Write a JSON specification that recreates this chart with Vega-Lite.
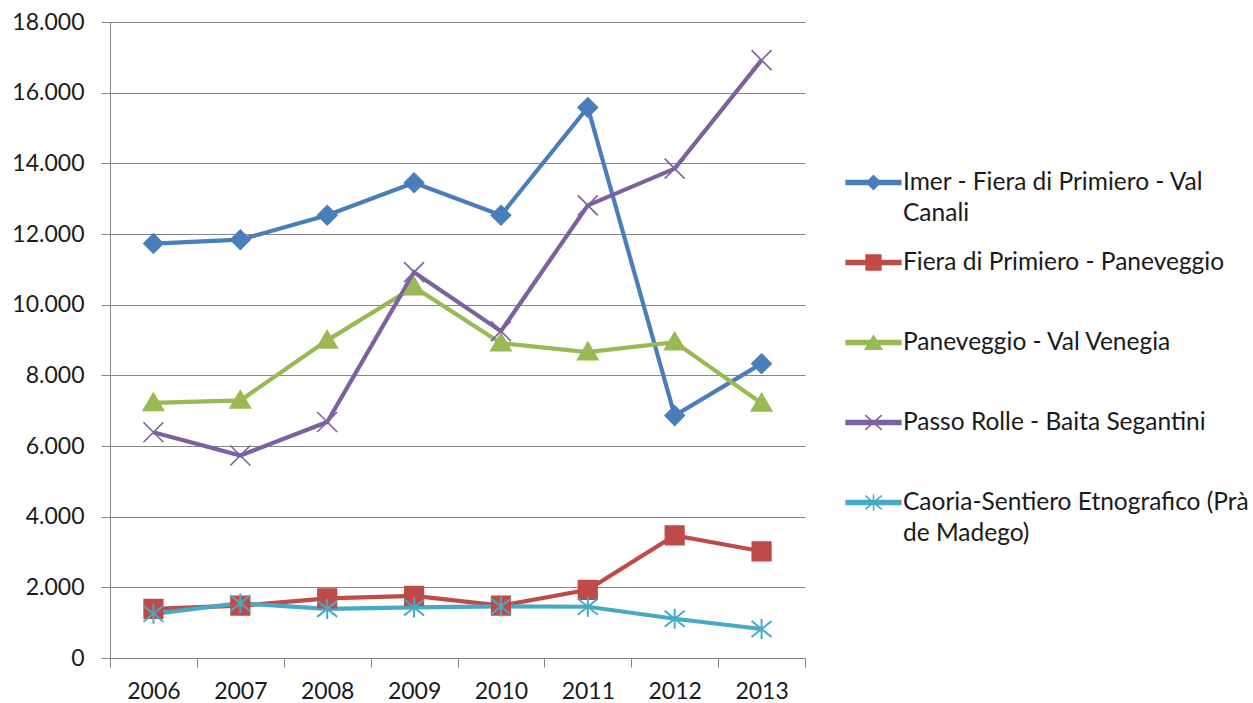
{
  "$schema": "https://vega.github.io/schema/vega-lite/v6.json",
  "width": 695,
  "height": 636,
  "autosize": {"type": "none"},
  "padding": {"left": 110, "top": 22, "right": 448, "bottom": 45},
  "background": "white",
  "config": {
    "font": "Lato",
    "locale": {
      "number": {"decimal": ",", "thousands": ".", "grouping": [3], "currency": ["€", ""]}
    },
    "view": {"stroke": null},
    "point": {"size": 400, "strokeWidth": 1.8, "opacity": 1},
    "axis": {
      "domainColor": "#868686",
      "tickColor": "#868686",
      "gridColor": "#868686",
      "labelColor": "#1a1a1a",
      "labelFont": "Lato",
      "labelFontSize": 23,
      "tickSize": 9,
      "title": null
    }
  },
  "data": {
    "values": [
      {"year": "2006", "series": "Imer - Fiera di Primiero - Val Canali", "value": 11730},
      {"year": "2007", "series": "Imer - Fiera di Primiero - Val Canali", "value": 11840},
      {"year": "2008", "series": "Imer - Fiera di Primiero - Val Canali", "value": 12530},
      {"year": "2009", "series": "Imer - Fiera di Primiero - Val Canali", "value": 13450},
      {"year": "2010", "series": "Imer - Fiera di Primiero - Val Canali", "value": 12530},
      {"year": "2011", "series": "Imer - Fiera di Primiero - Val Canali", "value": 15580},
      {"year": "2012", "series": "Imer - Fiera di Primiero - Val Canali", "value": 6860},
      {"year": "2013", "series": "Imer - Fiera di Primiero - Val Canali", "value": 8330},
      {"year": "2006", "series": "Fiera di Primiero - Paneveggio", "value": 1390},
      {"year": "2007", "series": "Fiera di Primiero - Paneveggio", "value": 1480},
      {"year": "2008", "series": "Fiera di Primiero - Paneveggio", "value": 1690},
      {"year": "2009", "series": "Fiera di Primiero - Paneveggio", "value": 1760},
      {"year": "2010", "series": "Fiera di Primiero - Paneveggio", "value": 1480},
      {"year": "2011", "series": "Fiera di Primiero - Paneveggio", "value": 1930},
      {"year": "2012", "series": "Fiera di Primiero - Paneveggio", "value": 3470},
      {"year": "2013", "series": "Fiera di Primiero - Paneveggio", "value": 3020},
      {"year": "2006", "series": "Paneveggio - Val Venegia", "value": 7220},
      {"year": "2007", "series": "Paneveggio - Val Venegia", "value": 7290},
      {"year": "2008", "series": "Paneveggio - Val Venegia", "value": 8990},
      {"year": "2009", "series": "Paneveggio - Val Venegia", "value": 10500},
      {"year": "2010", "series": "Paneveggio - Val Venegia", "value": 8910},
      {"year": "2011", "series": "Paneveggio - Val Venegia", "value": 8660},
      {"year": "2012", "series": "Paneveggio - Val Venegia", "value": 8940},
      {"year": "2013", "series": "Paneveggio - Val Venegia", "value": 7210},
      {"year": "2006", "series": "Passo Rolle - Baita Segantini", "value": 6390},
      {"year": "2007", "series": "Passo Rolle - Baita Segantini", "value": 5730},
      {"year": "2008", "series": "Passo Rolle - Baita Segantini", "value": 6680},
      {"year": "2009", "series": "Passo Rolle - Baita Segantini", "value": 10920},
      {"year": "2010", "series": "Passo Rolle - Baita Segantini", "value": 9250},
      {"year": "2011", "series": "Passo Rolle - Baita Segantini", "value": 12810},
      {"year": "2012", "series": "Passo Rolle - Baita Segantini", "value": 13850},
      {"year": "2013", "series": "Passo Rolle - Baita Segantini", "value": 16920},
      {"year": "2006", "series": "Caoria-Sentiero Etnografico (Prà de Madego)", "value": 1250},
      {"year": "2007", "series": "Caoria-Sentiero Etnografico (Prà de Madego)", "value": 1550},
      {"year": "2008", "series": "Caoria-Sentiero Etnografico (Prà de Madego)", "value": 1390},
      {"year": "2009", "series": "Caoria-Sentiero Etnografico (Prà de Madego)", "value": 1430},
      {"year": "2010", "series": "Caoria-Sentiero Etnografico (Prà de Madego)", "value": 1460},
      {"year": "2011", "series": "Caoria-Sentiero Etnografico (Prà de Madego)", "value": 1450},
      {"year": "2012", "series": "Caoria-Sentiero Etnografico (Prà de Madego)", "value": 1110},
      {"year": "2013", "series": "Caoria-Sentiero Etnografico (Prà de Madego)", "value": 820}
    ]
  },
  "encoding": {
    "x": {
      "field": "year",
      "type": "ordinal",
      "scale": {"paddingInner": 0, "paddingOuter": 0},
      "axis": {"labelAngle": 0, "tickBand": "extent", "labelPadding": 13, "grid": false}
    },
    "y": {
      "field": "value",
      "type": "quantitative",
      "scale": {"domain": [0, 18000], "nice": false, "zero": true},
      "axis": {
        "values": [0, 2000, 4000, 6000, 8000, 10000, 12000, 14000, 16000, 18000],
        "format": ",d",
        "grid": true,
        "labelPadding": 17
      }
    }
  },
  "layer": [
    {
      "mark": {"type": "line", "strokeWidth": 4.2},
      "encoding": {
        "color": {
          "field": "series",
          "type": "nominal",
          "sort": null,
          "scale": {
            "domain": [
              "Imer - Fiera di Primiero - Val Canali",
              "Fiera di Primiero - Paneveggio",
              "Paneveggio - Val Venegia",
              "Passo Rolle - Baita Segantini",
              "Caoria-Sentiero Etnografico (Prà de Madego)"
            ],
            "range": ["#4A7EBB", "#BE4B48", "#98B954", "#7D60A0", "#46AAC5"]
          },
          "legend": {
            "title": null,
            "orient": "none",
            "legendX": 735,
            "legendY": 132,
            "direction": "vertical",
            "columns": 1,
            "gridAlign": "all",
            "rowPadding": 9,
            "symbolSize": 3000,
            "symbolStrokeWidth": 1.5,
            "labelFont": "Lato",
            "labelFontSize": 24.5,
            "labelColor": "#1a1a1a",
            "labelLimit": 400,
            "labelOffset": 1,
            "labelExpr": "datum.label == 'Imer - Fiera di Primiero - Val Canali' ? ['Imer - Fiera di Primiero - Val', 'Canali'] : datum.label == 'Caoria-Sentiero Etnografico (Prà de Madego)' ? ['Caoria-Sentiero Etnografico (Prà', 'de Madego)'] : datum.label",
            "encode": {
              "labels": {"update": {"lineHeight": {"value": 31}}},
              "symbols": {
                "update": {
                  "shape": {
                    "signal": "datum.value == 'Imer - Fiera di Primiero - Val Canali' ? 'M-1,-0.07H1V0.07H-1ZM-0.25,0L0,-0.25L0.25,0L0,0.25Z' : datum.value == 'Fiera di Primiero - Paneveggio' ? 'M-1,-0.07H1V0.07H-1ZM-0.27,-0.27H0.27V0.27H-0.27Z' : datum.value == 'Paneveggio - Val Venegia' ? 'M-1,-0.07H1V0.07H-1ZM0,-0.25L0.3,0.25H-0.3Z' : datum.value == 'Passo Rolle - Baita Segantini' ? 'M-1,-0.07H1V0.07H-1ZM-0.3,-0.27L0.3,0.27M-0.3,0.27L0.3,-0.27' : 'M-1,-0.07H1V0.07H-1ZM-0.3,-0.25L0.3,0.25M-0.3,0.25L0.3,-0.25M0,-0.3V0.3'"
                  },
                  "fill": {"scale": "color", "field": "value"},
                  "stroke": {"scale": "color", "field": "value"},
                  "strokeWidth": {"value": 1.5},
                  "opacity": {"value": 1}
                }
              }
            }
          }
        }
      }
    },
    {
      "transform": [{"filter": {"field": "series", "equal": "Imer - Fiera di Primiero - Val Canali"}}],
      "mark": {"type": "point", "filled": true, "shape": "M-0.95,0L0,-0.95L0.95,0L0,0.95Z", "fill": "#4A7EBB", "stroke": "#4A7EBB"}
    },
    {
      "transform": [{"filter": {"field": "series", "equal": "Fiera di Primiero - Paneveggio"}}],
      "mark": {"type": "point", "filled": true, "shape": "M-0.92,-0.92H0.92V0.92H-0.92Z", "fill": "#BE4B48", "stroke": "#BE4B48"}
    },
    {
      "transform": [{"filter": {"field": "series", "equal": "Paneveggio - Val Venegia"}}],
      "mark": {"type": "point", "filled": true, "shape": "M0,-0.95L1,0.75H-1Z", "fill": "#98B954", "stroke": "#98B954"}
    },
    {
      "transform": [{"filter": {"field": "series", "equal": "Passo Rolle - Baita Segantini"}}],
      "mark": {"type": "point", "filled": false, "shape": "M-1,-1L1,1M-1,1L1,-1", "stroke": "#7D60A0", "strokeWidth": 1.6}
    },
    {
      "transform": [{"filter": {"field": "series", "equal": "Caoria-Sentiero Etnografico (Prà de Madego)"}}],
      "mark": {"type": "point", "filled": false, "shape": "M-1,-0.8L1,0.8M-1,0.8L1,-0.8M0,-1V1", "stroke": "#46AAC5", "strokeWidth": 2}
    }
  ]
}
